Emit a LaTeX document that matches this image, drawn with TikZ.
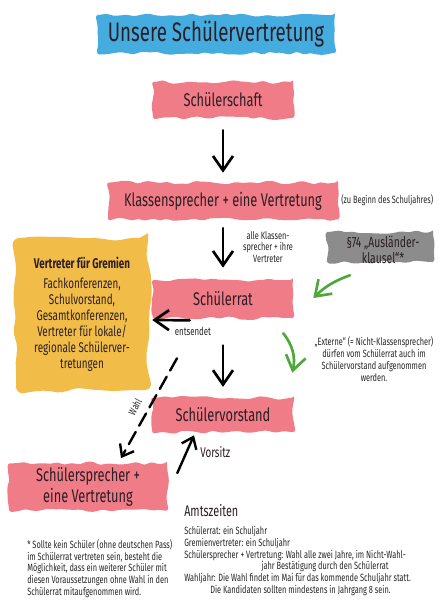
\documentclass[tikz,border=0pt]{standalone}
\usepackage{fontspec}
\setmainfont[FakeStretch=0.7]{Fira Sans}
\usetikzlibrary{arrows.meta,positioning,calc,decorations.pathmorphing}
\definecolor{svInk}{HTML}{2B1E24}
\definecolor{svText}{HTML}{262626}
\definecolor{svPink}{HTML}{F07C87}
\definecolor{svBlue}{HTML}{45ACE0}
\definecolor{svYellow}{HTML}{F1BD48}
\definecolor{svStone}{HTML}{8C8C8C}
\definecolor{svGreen}{HTML}{4FA83A}
\tikzset{
  brush/.style     ={fill=#1,decorate,decoration={random steps,segment length=5pt,amplitude=1.4pt},
                     rounded corners=2pt,inner sep=0pt,align=center,text=svInk},
  pinkbox/.style   ={brush=svPink,font=\fontsize{13}{14.5}\selectfont},
  titlebox/.style  ={brush=svBlue,font=\fontsize{19}{21}\selectfont,text=svInk,
                     minimum width=5.95cm,minimum height=0.95cm},
  stonebox/.style  ={brush=svStone,minimum width=2.65cm,minimum height=0.75cm},
  blob/.style      ={fill=svYellow,decorate,decoration={random steps,segment length=9pt,amplitude=3pt},
                     rounded corners=6pt,inner sep=0pt,align=center,text=svInk,
                     minimum width=3.3cm,minimum height=3.8cm,font=\fontsize{10}{11.4}\selectfont},
  stonetxt/.style  ={align=center,text=svInk,font=\fontsize{10.5}{11.5}\selectfont,inner sep=0pt},
  small/.style     ={font=\fontsize{7.5}{8.4}\selectfont,text=svText,inner sep=0pt},
  mid/.style       ={font=\fontsize{10}{12}\selectfont,text=svInk,inner sep=0pt},
  arr/.style       ={-{Straight Barb[length=3.6mm,width=5mm]},line width=1.9pt,line cap=round,black},
  thinarr/.style   ={-{Straight Barb[length=2.6mm,width=4mm]},line width=1.7pt,line cap=round,black},
  greenarr/.style  ={arr,svGreen},
  dasharr/.style   ={thinarr,dash pattern=on 10pt off 5pt},
}
\pgfmathsetseed{11}

\begin{document}
\begin{tikzpicture}[x=0.025cm,y=-0.025cm]
\fill[white] (0,0) rectangle (448,600);
\useasboundingbox (0,0) rectangle (448,600);

\node[titlebox] (title) at (216,34) {Unsere Schülervertretung};

\node[pinkbox,minimum width=3.5cm,minimum height=0.9cm] (schaft) at (223,100) {Schülerschaft};
\node[pinkbox,minimum width=5.75cm,minimum height=0.92cm] (klasse) at (223,201) {Klassensprecher + eine Vertretung};
\node[small,anchor=west] (beginn) at (341,200) {(zu Beginn des Schuljahres)};
\node[pinkbox,minimum width=3.5cm,minimum height=0.95cm] (rat) at (223,299) {Schülerrat};
\node[pinkbox,minimum width=3.55cm,minimum height=0.85cm] (vorstand) at (223,415) {Schülervorstand};
\node[pinkbox,minimum width=3.95cm,minimum height=1.18cm] (sprecher) at (88,487) {Schülersprecher +\\eine Vertretung};

\node[stonebox] (ausl) at (380,247) {};
\node[stonetxt] (ausltxt) at (383,250) {§74 „Ausländer-\\klausel“*};

\node[blob] (gremien) at (82,314)
  {\textbf{Vertreter für Gremien}\\[3pt]
   Fachkonferenzen,\\Schulvorstand,\\Gesamtkonferenzen,\\Vertreter für lokale/\\regionale Schülerver-\\tretungen};

%% labels
\node[small,align=center] (alle) at (268,247) {alle Klassen-\\sprecher + ihre\\Vertreter};
\node[small,font=\fontsize{8}{9}\selectfont] (ents) at (193,331) {entsendet};
\node[small,align=center] (ext) at (374,359)
  {„Externe“ (= Nicht-Klassensprecher)\\dürfen vom Schülerrat auch im\\Schülervorstand aufgenommen\\werden.};
\node[small,rotate=61] (wahl) at (135,407) {Wahl};
\node[mid,anchor=west] (vorsitz) at (200,452) {Vorsitz};

\foreach \a/\b/\sa/\sb in {schaft/klasse/3/2.4, klasse/rat/2.1/3, rat/vorstand/6.8/2.7}
  \draw[arr,shorten <=\sa mm,shorten >=\sb mm] (\a) -- (\b);

\draw[arr] ([shift={(37,2)}]rat.south west) -- ([shift={(4,6)}]gremien.east);
\draw[greenarr] ([shift={(-30,13)}]ausl.south) to[bend right=12] ([shift={(20,-1)}]rat.east);
\draw[greenarr] ([shift={(-10,15)}]rat.south east) to[bend left=25] ([shift={(-2,-25)}]vorstand.north east);
\draw[dasharr] ([shift={(-46,40)}]rat.south) -- ([shift={(33,-5)}]sprecher.north);
\draw[thinarr] ([shift={(10,-14)}]sprecher.east) -- ([shift={(-29,3)}]vorstand.south);

\node[mid,font=\fontsize{11}{13}\selectfont,anchor=west] (amt) at (184,511) {Amtszeiten};
\node[small,anchor=north west,align=left] (amttxt) at (184,526)
  {Schülerrat: ein Schuljahr\\
   Gremienvertreter: ein Schuljahr\\
   Schülersprecher + Vertretung: Wahl alle zwei Jahre, im Nicht-Wahl-\\
   \hspace*{1.93cm}jahr Bestätigung durch den Schülerrat\\
   Wahljahr: Die Wahl findet im Mai für das kommende Schuljahr statt.\\
   \hspace*{0.65cm}Die Kandidaten sollten mindestens in Jahrgang 8 sein.};
\node[small,anchor=north west,align=left] (fuss) at (27,539)
  {* Sollte kein Schüler (ohne deutschen Pass)\\
   im Schülerrat vertreten sein, besteht die\\
   Möglichkeit, dass ein weiterer Schüler mit\\
   diesen Voraussetzungen ohne Wahl in den\\
   Schülerrat mitaufgenommen wird.};
\end{tikzpicture}
\end{document}
